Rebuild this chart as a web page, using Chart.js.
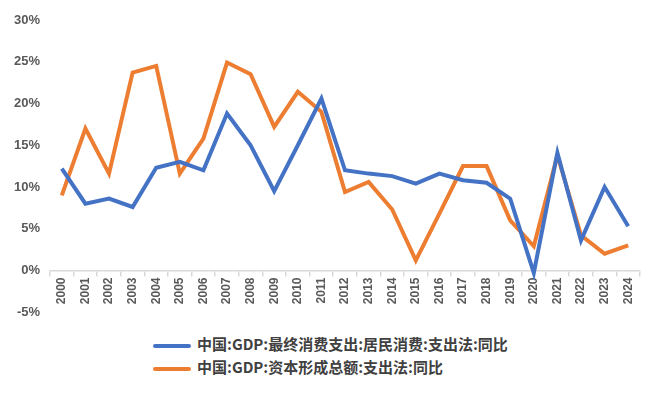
<!DOCTYPE html>
<html>
<head>
    <title>中国GDP同比</title>
    <script src="https://cdn.jsdelivr.net/npm/chart.js"></script>
    <style>
        body {margin: 0; background: #fff;}
        #wrap {position: relative; width: 660px; height: 395px;}
        #chartBox {position: absolute; left: 0; top: 0; width: 660px; height: 322px;}
        #legend {position: absolute; left: 153px; top: 332px; font: bold 15px "Noto Sans CJK SC", sans-serif; color: #404040;}
        #legend div {height: 23px; line-height: 23px; white-space: nowrap;}
        #legend span.sw {display: inline-block; width: 38px; height: 4px; vertical-align: middle; margin-right: 6px; border-radius: 2px;}
    </style>
</head>
<body>
<div id="wrap">
    <div id="chartBox"><canvas id="myChart"></canvas></div>
    <div id="legend"></div>
</div>
<script>
    var years = ['2000','2001','2002','2003','2004','2005','2006','2007','2008','2009','2010','2011','2012',
                 '2013','2014','2015','2016','2017','2018','2019','2020','2021','2022','2023','2024'];
    var consumption = [12.2, 8.0, 8.6, 7.6, 12.3, 13.0, 12.0, 18.8, 15.0, 9.5, 15.0, 20.6, 12.0,
                       11.6, 11.3, 10.4, 11.6, 10.8, 10.5, 8.6, -0.3, 14.1, 3.6, 10.0, 5.3];
    var capital = [9.0, 17.0, 11.6, 23.7, 24.5, 11.6, 15.8, 24.9, 23.5, 17.2, 21.4, 19.0, 9.4,
                   10.6, 7.3, 1.2, 6.8, 12.5, 12.5, 6.0, 2.9, 13.8, 4.2, 2.0, 3.0];
    var seriesNames = ['中国:GDP:最终消费支出:居民消费:支出法:同比', '中国:GDP:资本形成总额:支出法:同比'];
    var colors = ['#4472C4', '#ED7D31'];

    var datasets = [consumption, capital].map(function(vals, i) {
        return {
            label: seriesNames[i],
            data: vals,
            borderColor: colors[i],
            backgroundColor: colors[i],
            borderWidth: 4,
            pointRadius: 0,
            tension: 0
        };
    });

    // legend as plain html rows
    var lg = document.getElementById('legend');
    seriesNames.forEach(function(name, i) {
        var d = document.createElement('div');
        d.innerHTML = '<span class="sw" style="background:' + colors[i] + '"></span>' + name;
        lg.appendChild(d);
    });

    var ctx = document.getElementById('myChart').getContext('2d');
    new Chart(ctx, {
        type: 'line',
        data: {labels: years, datasets: datasets},
        options: {
            responsive: true,
            maintainAspectRatio: false,
            animation: false,
            layout: {padding: {top: 20, right: 20, bottom: 9, left: 12}},
            plugins: {legend: {display: false}, tooltip: {enabled: false}},
            scales: {
                y: {
                    min: -5,
                    max: 30,
                    ticks: {
                        stepSize: 5,
                        padding: 2,
                        color: '#595959',
                        font: {family: 'Liberation Sans', size: 13, weight: 'bold'},
                        callback: function(v) { return v + '%'; }
                    },
                    grid: {display: false},
                    border: {display: false}
                },
                x: {
                    position: {y: 0},
                    offset: true,
                    ticks: {
                        minRotation: 90,
                        maxRotation: 90,
                        autoSkip: false,
                        padding: 2,
                        color: '#595959',
                        font: {family: 'Liberation Sans', size: 12, weight: 'bold'}
                    },
                    grid: {display: true, drawOnChartArea: false, offset: true, tickLength: 5, color: '#d9d9d9', lineWidth: 1.5},
                    border: {display: true, color: '#d9d9d9', width: 1.5}
                }
            }
        }
    });
</script>
</body>
</html>
